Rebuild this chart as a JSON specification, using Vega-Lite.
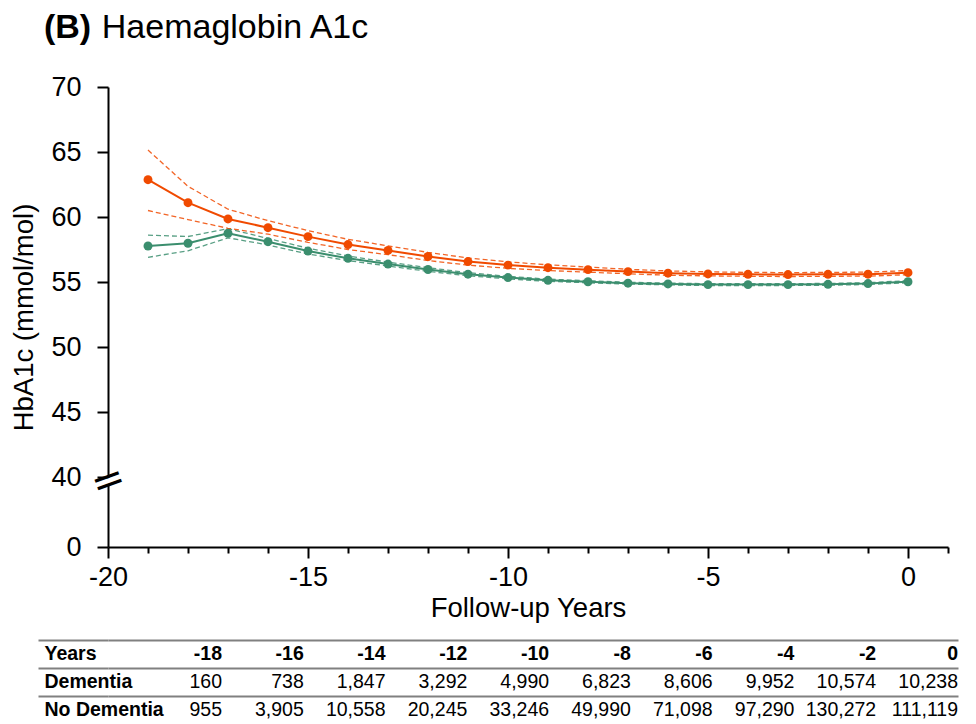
{
  "$schema": "https://vega.github.io/schema/vega-lite/v6.json",
  "padding": {"left": 10, "top": 11, "right": 5, "bottom": 0},
  "config": {
    "font": "Liberation Sans",
    "locale": {"number": {"decimal": ".", "thousands": ",", "grouping": [3], "currency": ["$", ""], "minus": "-"}},
    "view": {"stroke": null},
    "axis": {"labelFont": "Liberation Sans", "titleFont": "Liberation Sans", "labelColor": "#000", "titleColor": "#000", "titleFontWeight": "normal"}
  },
  "title": {
    "text": "(B)",
    "subtitle": "\u200b\u2002\u2002\u2002\u2009Haemaglobin A1c",
    "anchor": "start",
    "font": "Liberation Sans",
    "fontSize": 34,
    "fontWeight": "bold",
    "color": "#000",
    "subtitleFont": "Liberation Sans",
    "subtitleFontSize": 34,
    "subtitleFontWeight": "normal",
    "subtitleColor": "#000",
    "subtitlePadding": -34,
    "dx": 33,
    "offset": 28
  },
  "datasets": {
    "series": [
      {"year": -19, "group": "Dementia", "mean": 62.87, "upper": 65.15, "lower": 60.5},
      {"year": -18, "group": "Dementia", "mean": 61.1, "upper": 62.36, "lower": 59.8},
      {"year": -17, "group": "Dementia", "mean": 59.85, "upper": 60.6, "lower": 59.13},
      {"year": -16, "group": "Dementia", "mean": 59.18, "upper": 59.72, "lower": 58.68},
      {"year": -15, "group": "Dementia", "mean": 58.49, "upper": 58.95, "lower": 58.05},
      {"year": -14, "group": "Dementia", "mean": 57.88, "upper": 58.28, "lower": 57.5},
      {"year": -13, "group": "Dementia", "mean": 57.43, "upper": 57.78, "lower": 57.1},
      {"year": -12, "group": "Dementia", "mean": 56.96, "upper": 57.28, "lower": 56.65},
      {"year": -11, "group": "Dementia", "mean": 56.57, "upper": 56.85, "lower": 56.3},
      {"year": -10, "group": "Dementia", "mean": 56.3, "upper": 56.55, "lower": 56.05},
      {"year": -9, "group": "Dementia", "mean": 56.1, "upper": 56.32, "lower": 55.88},
      {"year": -8, "group": "Dementia", "mean": 55.95, "upper": 56.15, "lower": 55.76},
      {"year": -7, "group": "Dementia", "mean": 55.8, "upper": 55.98, "lower": 55.63},
      {"year": -6, "group": "Dementia", "mean": 55.68, "upper": 55.85, "lower": 55.52},
      {"year": -5, "group": "Dementia", "mean": 55.62, "upper": 55.78, "lower": 55.47},
      {"year": -4, "group": "Dementia", "mean": 55.59, "upper": 55.74, "lower": 55.44},
      {"year": -3, "group": "Dementia", "mean": 55.57, "upper": 55.72, "lower": 55.42},
      {"year": -2, "group": "Dementia", "mean": 55.59, "upper": 55.74, "lower": 55.44},
      {"year": -1, "group": "Dementia", "mean": 55.6, "upper": 55.76, "lower": 55.45},
      {"year": 0, "group": "Dementia", "mean": 55.72, "upper": 55.88, "lower": 55.56},
      {"year": -19, "group": "No Dementia", "mean": 57.77, "upper": 58.6, "lower": 56.9},
      {"year": -18, "group": "No Dementia", "mean": 57.98, "upper": 58.5, "lower": 57.4},
      {"year": -17, "group": "No Dementia", "mean": 58.75, "upper": 59.1, "lower": 58.4},
      {"year": -16, "group": "No Dementia", "mean": 58.1, "upper": 58.35, "lower": 57.85},
      {"year": -15, "group": "No Dementia", "mean": 57.38, "upper": 57.6, "lower": 57.15},
      {"year": -14, "group": "No Dementia", "mean": 56.82, "upper": 57.0, "lower": 56.65},
      {"year": -13, "group": "No Dementia", "mean": 56.38, "upper": 56.53, "lower": 56.23},
      {"year": -12, "group": "No Dementia", "mean": 55.96, "upper": 56.1, "lower": 55.82},
      {"year": -11, "group": "No Dementia", "mean": 55.6, "upper": 55.72, "lower": 55.48},
      {"year": -10, "group": "No Dementia", "mean": 55.34, "upper": 55.44, "lower": 55.24},
      {"year": -9, "group": "No Dementia", "mean": 55.13, "upper": 55.22, "lower": 55.05},
      {"year": -8, "group": "No Dementia", "mean": 55.02, "upper": 55.1, "lower": 54.94},
      {"year": -7, "group": "No Dementia", "mean": 54.91, "upper": 54.98, "lower": 54.84},
      {"year": -6, "group": "No Dementia", "mean": 54.85, "upper": 54.92, "lower": 54.78},
      {"year": -5, "group": "No Dementia", "mean": 54.8, "upper": 54.87, "lower": 54.73},
      {"year": -4, "group": "No Dementia", "mean": 54.8, "upper": 54.87, "lower": 54.73},
      {"year": -3, "group": "No Dementia", "mean": 54.8, "upper": 54.87, "lower": 54.73},
      {"year": -2, "group": "No Dementia", "mean": 54.82, "upper": 54.89, "lower": 54.75},
      {"year": -1, "group": "No Dementia", "mean": 54.88, "upper": 54.95, "lower": 54.81},
      {"year": 0, "group": "No Dementia", "mean": 55.02, "upper": 55.1, "lower": 54.94}
    ],
    "table": [
      {"year": -18, "Dementia": 160, "No Dementia": 955},
      {"year": -16, "Dementia": 738, "No Dementia": 3905},
      {"year": -14, "Dementia": 1847, "No Dementia": 10558},
      {"year": -12, "Dementia": 3292, "No Dementia": 20245},
      {"year": -10, "Dementia": 4990, "No Dementia": 33246},
      {"year": -8, "Dementia": 6823, "No Dementia": 49990},
      {"year": -6, "Dementia": 8606, "No Dementia": 71098},
      {"year": -4, "Dementia": 9952, "No Dementia": 97290},
      {"year": -2, "Dementia": 10574, "No Dementia": 130272},
      {"year": 0, "Dementia": 10238, "No Dementia": 111119}
    ]
  },
  "spacing": 17,
  "vconcat": [
    {
      "width": 840,
      "height": 460,
      "resolve": {"axis": {"y": "independent"}},
      "layer": [
        {
          "mark": {"type": "rule", "color": "#808080", "strokeDash": [7, 5], "strokeWidth": 1.5},
          "encoding": {
            "x": {
              "datum": -17,
              "type": "quantitative",
              "scale": {"domain": [-20, 1], "nice": false, "zero": false},
              "axis": {
                "values": [-20, -19, -18, -17, -16, -15, -14, -13, -12, -11, -10, -9, -8, -7, -6, -5, -4, -3, -2, -1, 0, 1],
                "tickSize": {"condition": {"test": "datum.value % 5 === 0", "value": 11}, "value": 6},
                "labelExpr": "datum.value % 5 === 0 ? datum.label : ''",
                "labelFontSize": 27,
                "labelPadding": 6,
                "labelFlush": false,
                "labelOverlap": false,
                "title": "Follow-up Years",
                "titleFontSize": 27.5,
                "titlePadding": 4,
                "grid": false,
                "domainColor": "#000",
                "domainWidth": 2,
                "tickColor": "#000",
                "tickWidth": 2
              }
            }
          }
        },
        {
          "data": {"name": "series"},
          "encoding": {
            "x": {
              "field": "year",
              "type": "quantitative",
              "title": "Follow-up Years",
              "scale": {"domain": [-20, 1], "nice": false, "zero": false},
              "axis": {
                "values": [-20, -19, -18, -17, -16, -15, -14, -13, -12, -11, -10, -9, -8, -7, -6, -5, -4, -3, -2, -1, 0, 1],
                "tickSize": {"condition": {"test": "datum.value % 5 === 0", "value": 11}, "value": 6},
                "labelExpr": "datum.value % 5 === 0 ? datum.label : ''",
                "labelFontSize": 27,
                "labelPadding": 6,
                "labelFlush": false,
                "labelOverlap": false,
                "title": "Follow-up Years",
                "titleFontSize": 27.5,
                "titlePadding": 4,
                "grid": false,
                "domainColor": "#000",
                "domainWidth": 2,
                "tickColor": "#000",
                "tickWidth": 2
              }
            },
            "color": {
              "field": "group",
              "type": "nominal",
              "scale": {"domain": ["Dementia", "No Dementia"], "range": ["#F04A00", "#3B8E6E"]},
              "legend": null
            }
          },
          "layer": [
            {
              "mark": {"type": "line", "strokeWidth": 1.3, "strokeDash": [5, 3], "opacity": 0.85},
              "encoding": {
                "y": {
                  "field": "upper",
                  "type": "quantitative",
                  "title": "HbA1c (mmol/mol)",
                  "scale": {"domain": [0, 40, 70], "range": [460, 390, 0], "nice": false, "zero": false},
                  "axis": {
                    "orient": "left",
                    "values": [0, 20, 40, 42.5, 45, 47.5, 50, 52.5, 55, 57.5, 60, 62.5, 65, 67.5, 70],
                    "tickSize": {"condition": {"test": "datum.value === 0 || (datum.value >= 40 && datum.value % 5 === 0)", "value": 11}, "value": 6},
                    "labelExpr": "datum.value === 0 || (datum.value >= 40 && datum.value % 5 === 0) ? datum.label : ''",
                    "labelFontSize": 27,
                    "labelPadding": 16,
                    "labelOverlap": false,
                    "labelFlush": false,
                    "title": "HbA1c (mmol/mol)",
                    "titleFontSize": 27.5,
                    "titlePadding": 12,
                    "grid": false,
                    "domainColor": "#000",
                    "domainWidth": 2,
                    "tickColor": "#000",
                    "tickWidth": 2
                  }
                }
              }
            },
            {
              "mark": {"type": "line", "strokeWidth": 1.3, "strokeDash": [5, 3], "opacity": 0.85},
              "encoding": {"y": {"field": "lower", "type": "quantitative", "title": "HbA1c (mmol/mol)"}}
            },
            {
              "mark": {"type": "line", "strokeWidth": 2},
              "encoding": {"y": {"field": "mean", "type": "quantitative", "title": "HbA1c (mmol/mol)"}}
            },
            {
              "mark": {"type": "point", "filled": true, "size": 80, "opacity": 1},
              "encoding": {"y": {"field": "mean", "type": "quantitative", "title": "HbA1c (mmol/mol)"}}
            }
          ]
        },
        {
          "mark": {"type": "rule", "opacity": 0},
          "encoding": {
            "y": {
              "datum": 37.9,
              "type": "quantitative",
              "axis": {
                "orient": "left",
                "values": [37.9, 37.91],
                "domain": false,
                "ticks": false,
                "grid": false,
                "title": null,
                "labelExpr": "datum.value < 37.905 ? '\u25a0' : '='",
                "labelFont": "DejaVu Sans",
                "labelFontSize": {"condition": {"test": "datum.value < 37.905", "value": 9}, "value": 40},
                "labelColor": {"condition": {"test": "datum.value < 37.905", "value": "#ffffff"}, "value": "#000000"},
                "labelAngle": -20,
                "labelAlign": "center",
                "labelBaseline": "middle",
                "labelPadding": 0,
                "labelFlush": false,
                "labelOverlap": false,
                "labelBound": false
              }
            }
          }
        }
      ]
    },
    {
      "width": 850,
      "height": 84,
      "data": {"name": "table"},
      "encoding": {
        "x": {"field": "year", "type": "ordinal", "scale": {"type": "point", "padding": 0.697, "align": 1}, "axis": null}
      },
      "layer": [
        {
          "mark": {"type": "text", "align": "right", "baseline": "middle", "fontSize": 19.5, "fontWeight": "bold", "font": "Liberation Sans", "color": "#000"},
          "encoding": {
            "y": {
              "datum": "Years",
              "type": "nominal",
              "scale": {"type": "band", "domain": ["Years", "Dementia", "No Dementia"], "paddingInner": 0, "paddingOuter": 0},
              "axis": {
                "title": null,
                "domain": false,
                "ticks": true,
                "tickSize": 70,
                "tickColor": "#808080",
                "tickWidth": 2,
                "grid": true,
                "gridColor": "#808080",
                "gridWidth": 2,
                "bandPosition": 0,
                "labelAlign": "left",
                "labelBaseline": "middle",
                "labelOffset": 0,
                "labelPadding": -6,
                "labelFontSize": 19.5,
                "labelFontWeight": "bold",
                "labelColor": "#000",
                "labelFont": "Liberation Sans"
              }
            },
            "text": {"field": "year", "type": "quantitative", "format": "d"}
          }
        },
        {
          "transform": [{"fold": ["Dementia", "No Dementia"], "as": ["row", "n"]}],
          "mark": {"type": "text", "align": "right", "baseline": "middle", "fontSize": 19.5, "font": "Liberation Sans", "color": "#000"},
          "encoding": {
            "y": {"field": "row", "type": "nominal"},
            "text": {"field": "n", "type": "quantitative", "format": ",d"}
          }
        }
      ]
    }
  ]
}
